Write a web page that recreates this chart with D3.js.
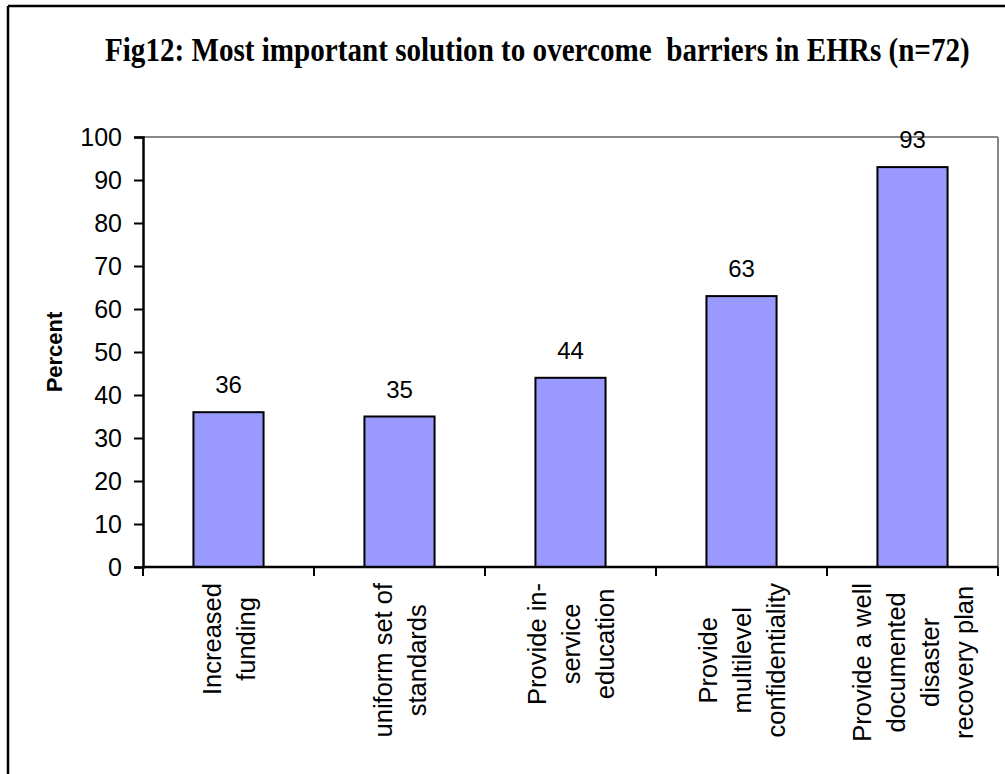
<!DOCTYPE html>
<html>
<head>
<meta charset="utf-8">
<script src="https://cdn.jsdelivr.net/npm/d3@7"></script>
<style>
  html, body { margin: 0; padding: 0; background: #fff; }
  svg { display: block; }
</style>
</head>
<body>
<svg id="chart" width="1005" height="774"></svg>
<script>
// ---- data ----
const categories = [
  ["Increased", "funding"],
  ["uniform set of", "standards"],
  ["Provide in-", "service", "education"],
  ["Provide", "multilevel", "confidentiality"],
  ["Provide a well", "documented", "disaster", "recovery plan"]
];
const values = [36, 35, 44, 63, 93];
const yTicks = [0, 10, 20, 30, 40, 50, 60, 70, 80, 90, 100];
const titleText = "Fig12: Most important solution to overcome  barriers in EHRs (n=72)";
const yAxisTitle = "Percent";

// ---- layout ----
const W = 1005, H = 774;
const plot = { left: 143, right: 998, top: 137, bottom: 567 };
const svg = d3.select("#chart");

// outer frame (left and top edges visible)
svg.append("line").attr("x1", 8).attr("y1", 6).attr("x2", W + 5).attr("y2", 6)
  .attr("stroke", "#000").attr("stroke-width", 2.5);
svg.append("line").attr("x1", 8).attr("y1", 6).attr("x2", 8).attr("y2", H + 5)
  .attr("stroke", "#000").attr("stroke-width", 2.5);

// title (slightly tall, condensed look as in reference)
const title = svg.append("text")
  .attr("x", 0).attr("y", 0)
  .attr("font-family", "'Liberation Serif', 'Times New Roman', serif")
  .attr("font-weight", "bold")
  .attr("font-size", 28)
  .attr("fill", "#000")
  .style("white-space", "pre")
  .text(titleText);
{
  const len = title.node().getComputedTextLength();
  const target = 865;
  title.attr("font-size", 28 * target / len)
    .attr("transform", "translate(105,61) scale(1,1.18)");
}

const idx = d3.range(categories.length);
const x = d3.scaleBand().domain(idx).range([plot.left, plot.right])
  .paddingInner(0.59).paddingOuter(0.295);
const y = d3.scaleLinear().domain([0, 100]).range([plot.bottom, plot.top]);

// plot area gray border (top & right)
svg.append("line").attr("x1", plot.left).attr("x2", plot.right)
  .attr("y1", y(100)).attr("y2", y(100)).attr("stroke", "#888").attr("stroke-width", 2);
svg.append("line").attr("x1", plot.right).attr("x2", plot.right)
  .attr("y1", y(100)).attr("y2", y(0)).attr("stroke", "#888").attr("stroke-width", 2);

// bars
svg.append("g").selectAll("rect").data(values).join("rect")
  .attr("x", (d, i) => x(i))
  .attr("y", d => y(d))
  .attr("width", x.bandwidth())
  .attr("height", d => y(0) - y(d))
  .attr("fill", "#9999FF")
  .attr("stroke", "#000")
  .attr("stroke-width", 2);

// value labels
svg.append("g").selectAll("text").data(values).join("text")
  .attr("x", (d, i) => x(i) + x.bandwidth() / 2)
  .attr("y", d => y(d) - 19)
  .attr("text-anchor", "middle")
  .attr("font-family", "'Liberation Sans', Arial, sans-serif")
  .attr("font-size", 24)
  .attr("fill", "#000")
  .text(d => d);

// y axis
const yAxis = d3.axisLeft(y).tickValues(yTicks).tickSize(9).tickPadding(12);
const gy = svg.append("g").attr("transform", `translate(${plot.left},0)`).call(yAxis);
gy.select(".domain").attr("stroke", "#000").attr("stroke-width", 2.5);
gy.selectAll(".tick line").attr("stroke", "#000").attr("stroke-width", 2);
gy.selectAll(".tick text")
  .attr("font-family", "'Liberation Sans', Arial, sans-serif")
  .attr("font-size", 25).attr("fill", "#000");

// x axis line and boundary ticks
const xEdge = d3.scaleLinear().domain([0, categories.length]).range([plot.left, plot.right]);
svg.append("line").attr("x1", plot.left).attr("x2", plot.right)
  .attr("y1", y(0)).attr("y2", y(0)).attr("stroke", "#000").attr("stroke-width", 2.5);
svg.append("g").selectAll("line").data(d3.range(categories.length + 1)).join("line")
  .attr("x1", d => xEdge(d)).attr("x2", d => xEdge(d))
  .attr("y1", y(0)).attr("y2", y(0) + 9)
  .attr("stroke", "#000").attr("stroke-width", 2);

// category labels (rotated, multi-line, centered)
const lineGap = 34;
const labelTop = y(0) + 16;
categories.forEach((lines, i) => {
  const cx = x(i) + x.bandwidth() / 2;
  const g = svg.append("g")
    .attr("transform", `translate(${cx},${labelTop}) rotate(-90)`);
  const n = lines.length;
  const texts = lines.map((ln, k) => g.append("text")
    .attr("font-family", "'Liberation Sans', Arial, sans-serif")
    .attr("font-size", 25.5)
    .attr("fill", "#000")
    .attr("text-anchor", "middle")
    .attr("y", (k - (n - 1) / 2) * lineGap + 9)
    .text(ln));
  const maxLen = d3.max(texts, t => t.node().getComputedTextLength());
  texts.forEach(t => t.attr("x", -maxLen / 2));
});

// y axis title
svg.append("text")
  .attr("transform", `translate(62,${(plot.top + plot.bottom) / 2}) rotate(-90)`)
  .attr("text-anchor", "middle")
  .attr("font-family", "'Liberation Sans', Arial, sans-serif")
  .attr("font-weight", "bold")
  .attr("font-size", 22)
  .attr("fill", "#000")
  .text(yAxisTitle);
</script>
</body>
</html>
